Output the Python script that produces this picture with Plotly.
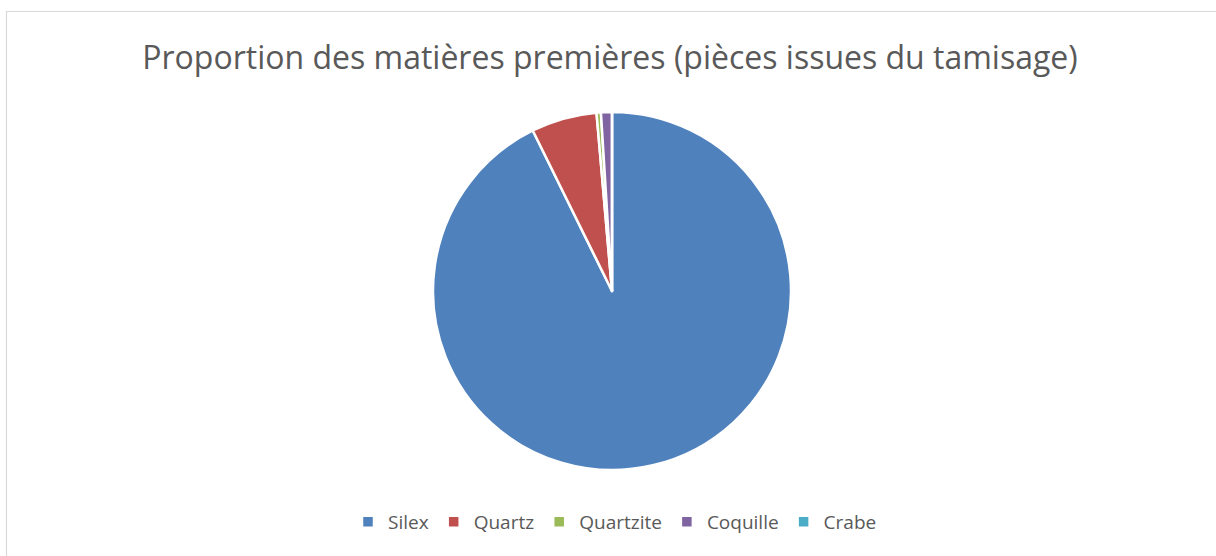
import plotly.graph_objects as go

# Raw-material counts for the sieved pieces
categories = ["Silex", "Quartz", "Quartzite", "Coquille", "Crabe"]
counts = [470, 30, 2, 5, 0]
colors = ["#4F81BD", "#C0504D", "#9BBB59", "#8064A2", "#4BACC6"]

title_text = "Proportion des matières premières (pièces issues du tamisage)"

W, H = 1216, 556
ml, mr, mt, mb = 8, 0, 112, 86

fig = go.Figure(
    go.Pie(
        labels=categories,
        values=counts,
        sort=False,
        direction="clockwise",
        rotation=0,
        textinfo="none",
        hoverinfo="label+value+percent",
        marker=dict(colors=colors, line=dict(color="white", width=2.5)),
    )
)

# Outer frame of the chart area (top and left edges visible)
pw, ph = W - ml - mr, H - mt - mb
def px_x(v):
    return (v - ml) / pw
def px_y(v):
    return 1 - (v - mt) / ph

fig.add_shape(type="rect", xref="paper", yref="paper",
              x0=px_x(6.5), x1=px_x(W + 10), y0=px_y(H + 10), y1=px_y(11.5),
              line=dict(color="#D9D9D9", width=1.2), fillcolor="rgba(0,0,0,0)")

fig.update_layout(
    width=W, height=H,
    margin=dict(l=ml, r=mr, t=mt, b=mb),
    paper_bgcolor="white",
    plot_bgcolor="white",
    font=dict(family="Open Sans, Liberation Sans, sans-serif", color="#595959"),
    title=dict(text=title_text, x=px_x(610) * pw / W + ml / W, xanchor="center",
               y=1 - 58 / H, yanchor="middle",
               font=dict(size=32, color="#595959")),
    showlegend=True,
    legend=dict(orientation="h", x=px_x(615), xanchor="center", y=px_y(522), yanchor="middle",
                font=dict(size=19, color="#595959"), itemwidth=30, tracegroupgap=0),
)

fig.write_html("out.html")
